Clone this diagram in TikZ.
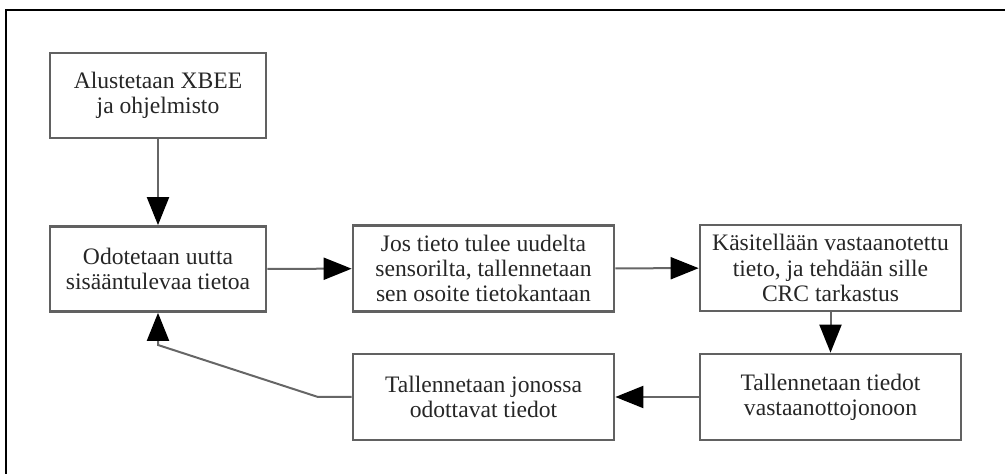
\documentclass[tikz,border=0pt]{standalone}
\usepackage{fontspec}
\setmainfont{Liberation Serif}
\usetikzlibrary{arrows.meta}
\begin{document}
\begin{tikzpicture}[x=0.5pt,y=-0.5pt,
  box/.style={draw=black!62, line width=1.35pt, align=center, inner sep=2pt,
    font=\fontsize{11.8pt}{12.6pt}\selectfont, text=black!85},
  boxa/.style={box, minimum width=108pt, minimum height=42.5pt},
  boxb/.style={box, minimum width=130.5pt, minimum height=43pt},
  arr/.style={draw=black!60, line width=1pt, -{Triangle[length=14pt,width=11pt,color=black]}},
  frame/.style={draw=black, line width=1pt}]
\useasboundingbox (0,0) rectangle (1005,474);
\coordinate (ftr) at (1005,10);
\coordinate (ftl) at (6,10);
\coordinate (fbl) at (6,474);
\draw[frame] (ftr) -- (ftl) -- (fbl);
\node[boxa] (a) at (158,95.5) {Alustetaan XBEE\\ja ohjelmisto};
\node[boxa] (b) at (158,269) {Odotetaan uutta\\sisääntulevaa tietoa};
\node[boxb] (c) at (483.5,268.5) {Jos tieto tulee uudelta\\sensorilta, tallennetaan\\sen osoite tietokantaan};
\node[boxb] (d) at (830.5,268) {Käsitellään vastaanotettu\\tieto, ja tehdään sille\\CRC tarkastus};
\node[boxb] (e) at (830.5,397) {Tallennetaan tiedot\\vastaanottojonoon};
\node[boxb] (f) at (483.5,397) {Tallennetaan jonossa\\odottavat tiedot};
\coordinate (k1) at (318,397);
\coordinate (k2) at (158,345);
\draw[arr] (a) -- (b);
\draw[arr] (b) -- (c);
\draw[arr] (c) -- (d);
\draw[arr] (d) -- (e);
\draw[arr] (e) -- (f);
\draw[arr] (f.west) -- (k1) -- (k2) -- (b.south);
\end{tikzpicture}
\end{document}
